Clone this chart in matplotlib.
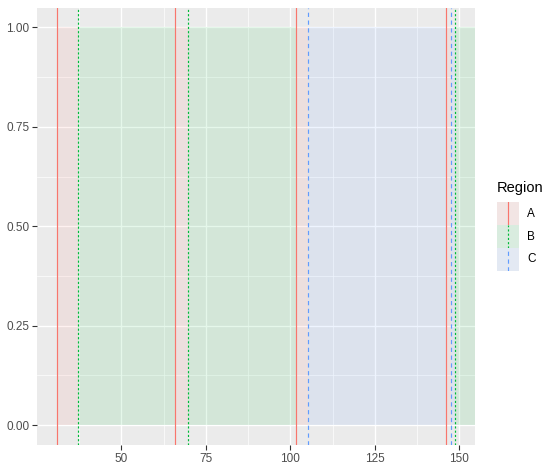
import numpy as np
import matplotlib
matplotlib.use("Agg")
import matplotlib.pyplot as plt
from matplotlib.patches import Rectangle

# regiones en orden y su inicio en x (el final es el inicio de la siguiente)
regions = ["A", "B", "A", "B", "A", "C", "A", "C", "B"]
starts = [31.0, 37.3, 65.8, 69.7, 101.6, 105.2, 146.0, 147.5, 148.7]
legend_levels = ["A", "B", "C"]

colors = {"A": "#F8766D", "B": "#00BA38", "C": "#619CFF"}
styles = {"A": "-", "B": (0, (1.8, 1.8)), "C": (0, (3.6, 3.0))}
lw = 0.85

plt.rcParams["font.family"] = ["Liberation Sans", "DejaVu Sans"]

fig = plt.figure(figsize=(5.58, 4.70), dpi=100)
ax = fig.add_axes([0.0668, 0.0532, 0.851 - 0.0668, 0.984 - 0.0532])
ax.set_facecolor("#EBEBEB")

# limites con la expansion de 5% estilo ggplot
xmin, xmax = min(starts), max(starts)
rng = xmax - xmin
x0, x1 = xmin - 0.05 * rng, xmax + 0.05 * rng
ax.set_xlim(x0, x1)
ax.set_ylim(-0.05, 1.05)

# cuadricula
xt = [50, 75, 100, 125, 150]
yt = [0, 0.25, 0.5, 0.75, 1.0]
ax.set_xticks(xt)
ax.set_yticks(yt)
ax.set_xticks([37.5, 62.5, 87.5, 112.5, 137.5], minor=True)
ax.set_yticks([0.125, 0.375, 0.625, 0.875], minor=True)
ax.grid(True, which="major", color="white", linewidth=1.0, zorder=0)
ax.grid(True, which="minor", color="white", linewidth=0.5, zorder=0)
ax.set_axisbelow(True)

# rectangulos de cada region
ends = starts[1:] + [x1 + 10]
for reg, s, e in zip(regions, starts, ends):
    ax.add_patch(Rectangle((s, 0), e - s, 1, facecolor=colors[reg],
                           alpha=0.1, edgecolor="none", zorder=1))

# lineas verticales al inicio de cada region
for reg, s in zip(regions, starts):
    ax.axvline(s, color=colors[reg], linestyle=styles[reg],
               linewidth=lw, zorder=2)

ax.set_yticklabels(["0.00", "0.25", "0.50", "0.75", "1.00"])
ax.tick_params(which="major", length=3.7, width=0.8, color="#333333",
               labelcolor="#4D4D4D", labelsize=8.45, pad=2)
ax.tick_params(which="minor", length=0)
for sp in ax.spines.values():
    sp.set_visible(False)

# leyenda dibujada a mano
fig.text(497 / 558, 1 - 188 / 470, "Region", fontsize=10.5,
         ha="left", va="center", color="black")
key_w, key_h = 22, 23
for i, reg in enumerate(legend_levels):
    top = 202 + i * key_h
    kax = fig.add_axes([497 / 558, 1 - (top + key_h) / 470,
                        key_w / 558, key_h / 470])
    kax.set_xlim(0, 1)
    kax.set_ylim(0, 1)
    kax.set_facecolor("#F2F2F2")
    kax.add_patch(Rectangle((0, 0), 1, 1, facecolor=colors[reg],
                            alpha=0.1, edgecolor="none"))
    kax.axvline(0.5, color=colors[reg], linestyle=styles[reg], linewidth=lw)
    kax.set_xticks([])
    kax.set_yticks([])
    for sp in kax.spines.values():
        sp.set_visible(False)
    fig.text(527 / 558, 1 - (top + key_h / 2) / 470, reg, fontsize=8.45,
             ha="left", va="center", color="black")

fig.savefig("out.png", dpi=100)
